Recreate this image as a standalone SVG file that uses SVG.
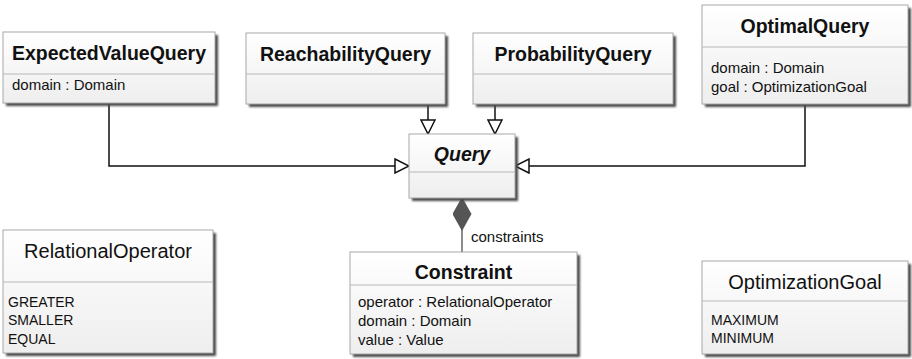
<svg xmlns="http://www.w3.org/2000/svg" width="912" height="359" viewBox="0 0 912 359">
<style>
.sh{fill:#4a4a4a;filter:url(#blur)}
.box{fill:url(#g);stroke:#a8a8a8;stroke-width:1}
.div{stroke:#b8b8b8;stroke-width:1}
.t{font-family:"Liberation Sans",Arial,sans-serif;font-size:19.5px;font-weight:bold;fill:#111;text-anchor:middle}
.ti{font-style:italic}
.e{font-family:"Liberation Sans",Arial,sans-serif;font-size:20px;fill:#111;text-anchor:middle}
.a{font-family:"Liberation Sans",Arial,sans-serif;font-size:15px;fill:#111}
.l{font-family:"Liberation Sans",Arial,sans-serif;font-size:14px;fill:#111}
.c{fill:none;stroke:#111;stroke-width:1.5}
.comp{fill:none;stroke:#666;stroke-width:1.5}
</style>
<defs>
<linearGradient id="g" x1="0" y1="0" x2="0" y2="1">
<stop offset="0" stop-color="#ffffff"/>
<stop offset="1" stop-color="#eeeeee"/>
</linearGradient>
<filter id="blur" x="-5%" y="-5%" width="110%" height="110%"><feGaussianBlur stdDeviation="0.8"/></filter>
<marker id="gen" markerUnits="userSpaceOnUse" markerWidth="16" markerHeight="16" refX="14" refY="7" orient="auto" viewBox="-1 -1 16 16">
<path d="M0,0 L14,7 L0,14 Z" fill="#fff" stroke="#111" stroke-width="1.5"/>
</marker>
<marker id="dia" markerUnits="userSpaceOnUse" markerWidth="36" markerHeight="22" refX="34" refY="9.5" orient="auto" viewBox="0 0 36 22">
<path d="M0,9.5 L17,0 L34,9.5 L17,19 Z" fill="#555"/>
</marker>
</defs>

<g id="connectors">
<path class="c" d="M109,103 V166 H409" marker-end="url(#gen)"/>
<path class="c" d="M428,104 V134" marker-end="url(#gen)"/>
<path class="c" d="M495,104 V134" marker-end="url(#gen)"/>
<path class="c" d="M805,104 V166 H515" marker-end="url(#gen)"/>
<path class="comp" d="M462,252 V197" marker-end="url(#dia)"/>
<text class="a" x="471" y="242">constraints</text>
</g>

<g id="ExpectedValueQuery">
<rect class="sh" x="6" y="35" width="212" height="71"/>
<rect class="box" x="3" y="32" width="212" height="71"/>
<line class="div" x1="3" y1="74" x2="215" y2="74"/>
<text class="t" x="109" y="60">ExpectedValueQuery</text>
<text class="a" x="12" y="90">domain : Domain</text>
</g>

<g id="ReachabilityQuery">
<rect class="sh" x="249" y="36" width="199" height="71"/>
<rect class="box" x="246" y="33" width="199" height="71"/>
<line class="div" x1="246" y1="74" x2="445" y2="74"/>
<text class="t" x="345.5" y="61">ReachabilityQuery</text>
</g>

<g id="ProbabilityQuery">
<rect class="sh" x="476" y="36" width="200" height="71"/>
<rect class="box" x="473" y="33" width="200" height="71"/>
<line class="div" x1="473" y1="74" x2="673" y2="74"/>
<text class="t" x="573" y="61">ProbabilityQuery</text>
</g>

<g id="OptimalQuery">
<rect class="sh" x="705" y="8" width="206" height="99"/>
<rect class="box" x="702" y="5" width="206" height="99"/>
<line class="div" x1="702" y1="47" x2="908" y2="47"/>
<text class="t" x="805" y="33">OptimalQuery</text>
<text class="a" x="711" y="73">domain : Domain</text>
<text class="a" x="711" y="92">goal : OptimizationGoal</text>
</g>

<g id="Query">
<rect class="sh" x="412" y="137" width="106" height="64"/>
<rect class="box" x="409" y="134" width="106" height="64"/>
<line class="div" x1="409" y1="172" x2="515" y2="172"/>
<text class="t ti" x="462" y="161">Query</text>
</g>

<g id="Constraint">
<rect class="sh" x="353" y="255" width="227" height="102"/>
<rect class="box" x="350" y="252" width="227" height="102"/>
<line class="div" x1="350" y1="285" x2="577" y2="285"/>
<text class="t" x="463.5" y="279">Constraint</text>
<text class="a" x="358" y="307">operator : RelationalOperator</text>
<text class="a" x="358" y="326">domain : Domain</text>
<text class="a" x="358" y="345">value : Value</text>
</g>

<g id="RelationalOperator">
<rect class="sh" x="6" y="233" width="210" height="123"/>
<rect class="box" x="3" y="230" width="210" height="123"/>
<line class="div" x1="3" y1="282" x2="213" y2="282"/>
<text class="e" x="108" y="258">RelationalOperator</text>
<text class="l" x="8" y="307">GREATER</text>
<text class="l" x="8" y="325">SMALLER</text>
<text class="l" x="8" y="344">EQUAL</text>
</g>

<g id="OptimizationGoal">
<rect class="sh" x="705" y="264" width="206" height="93"/>
<rect class="box" x="702" y="261" width="206" height="93"/>
<line class="div" x1="702" y1="301" x2="908" y2="301"/>
<text class="e" x="805" y="289">OptimizationGoal</text>
<text class="l" x="711" y="325">MAXIMUM</text>
<text class="l" x="711" y="343">MINIMUM</text>
</g>
</svg>
